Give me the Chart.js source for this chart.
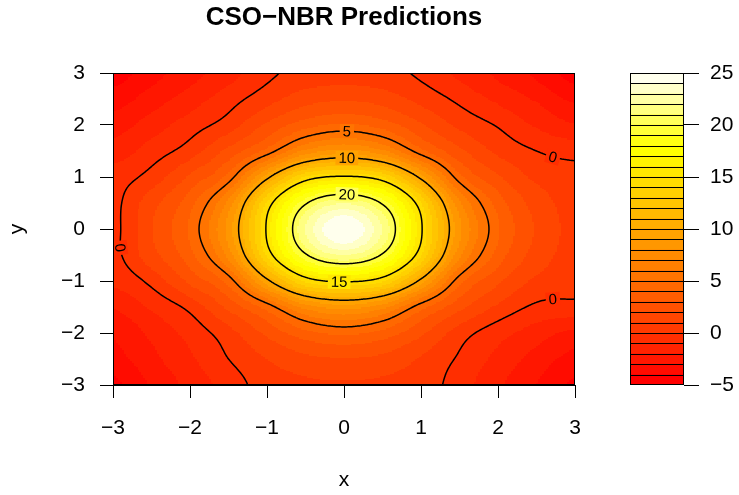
<!DOCTYPE html>
<html>
<head>
<meta charset="utf-8">
<title>CSO−NBR Predictions</title>
<script src="https://cdn.jsdelivr.net/npm/chart.js@4.4.1/dist/chart.umd.min.js"></script>
<style>
  html, body { margin: 0; padding: 0; background: #fff; }
  #wrap { position: relative; width: 739px; height: 495px; }
  #main { position: absolute; left: 0; top: 0; }
  #key { position: absolute; left: 600px; top: 0; }
</style>
</head>
<body>
<div id="wrap">
  <canvas id="main" width="739" height="495"></canvas>
  <canvas id="key" width="139" height="495"></canvas>
</div>
<script>
// prediction grid: x across, rows go from y = 3 down to y = -3
const xVals = [-3, -2.5, -2, -1.5, -1, -0.5, 0, 0.5, 1, 1.5, 2, 2.5, 3];
const yVals = [3, 2.5, 2, 1.5, 1, 0.5, 0, -0.5, -1, -1.5, -2, -2.5, -3];
const zRows = [
  [-4.5, -3.4, -2.4, -1.4, -0.25, 0.35, 0.5, 0.35, -0.2, -1.2, -2.2, -3.2, -4.4],
  [-3.5, -2.5, -1.5, -0.45, 0.6, 1.6, 1.9, 1.6, 0.7, -0.25, -1.2, -2.1, -3.2],
  [-2.5, -1.5, -0.5, 0.5, 2.2, 3.6, 4.2, 3.6, 2.2, 0.8, -0.1, -1.1, -1.9],
  [-1.56, -0.55, 0.5, 2.3, 4.4, 7.3, 8.4, 7.3, 4.4, 2.3, 0.8, 0.0, -0.4],
  [-0.5, 0.4, 2.2, 4.4, 9.6, 14.1, 15.2, 14.1, 9.6, 4.4, 2.2, 0.8, 0.45],
  [-0.3, 1.6, 3.6, 7.3, 14.1, 19.8, 22.0, 19.8, 14.1, 7.3, 3.6, 1.6, 0.6],
  [-0.3, 1.9, 4.2, 8.4, 15.2, 22.0, 25.0, 22.0, 15.2, 8.4, 4.2, 1.9, 0.7],
  [-0.3, 1.6, 3.6, 7.3, 14.1, 19.8, 22.0, 19.8, 14.1, 7.3, 3.6, 1.6, 0.6],
  [-0.8, 0.3, 2.2, 4.4, 9.6, 14.1, 15.2, 14.1, 9.6, 4.4, 2.2, 0.8, 0.45],
  [-2.0, -0.85, 0.3, 2.2, 4.4, 7.3, 8.4, 7.3, 4.4, 2.3, 0.8, -0.2, -0.35],
  [-2.9, -1.8, -0.65, 0.6, 2.2, 3.6, 4.2, 3.6, 2.2, 0.5, -0.6, -1.5, -2.3],
  [-3.4, -2.3, -1.2, 0.0, 1.0, 1.7, 1.9, 1.7, 0.9, -0.15, -1.3, -2.4, -3.4],
  [-4.3, -2.9, -1.7, -0.55, 0.45, 0.8, 0.9, 0.8, 0.5, -0.5, -1.8, -3.0, -4.2]
];
const fillLevels = [-5, -4, -3, -2, -1, 0, 1, 2, 3, 4, 5, 6, 7, 8, 9, 10, 11, 12, 13, 14, 15,
                    16, 17, 18, 19, 20, 21, 22, 23, 24, 25];
const lineLevels = [0, 5, 10, 15, 20];
const keyTicks = [-5, 0, 5, 10, 15, 20, 25];
const contourLabels = [
  { level: 5, x: 0.04, y: 1.85 },
  { level: 10, x: 0.04, y: 1.33 },
  { level: 20, x: 0.04, y: 0.66 },
  { level: 15, x: -0.07, y: -1.0 },
  { level: 0, x: 2.72, y: 1.39 },
  { level: 0, x: 2.72, y: -1.36 },
  { level: 0, x: -2.9, y: -0.36 }
];

const FONT = '"Liberation Sans", Arial, Helvetica, sans-serif';
const minus = v => (v < 0 ? '\u2212' + Math.abs(v) : String(v));

// R's heat.colors()
function heatColors(n) {
  const j = Math.floor(n / 4), i = n - j;
  const out = [];
  for (let k = 0; k < i; k++) out.push('rgb(255,' + Math.round(255 * k / (i - 1)) + ',0)');
  for (let k = 0; k < j; k++) {
    const s = (1 - 1 / (2 * j)) - k * ((1 - 1 / j) / (j - 1));
    out.push('rgb(255,255,' + Math.round(255 * (1 - s)) + ')');
  }
  return out;
}
const bandColours = heatColors(fillLevels.length - 1);

function bandColour(z) {
  let k = 0;
  while (k < fillLevels.length - 2 && z >= fillLevels[k + 1]) k++;
  return bandColours[k];
}

// smooth reading of the grid between its nodes (Catmull-Rom)
function cr(p0, p1, p2, p3, t) {
  return 0.5 * (2 * p1 + (-p0 + p2) * t + (2 * p0 - 5 * p1 + 4 * p2 - p3) * t * t +
    (-p0 + 3 * p1 - 3 * p2 + p3) * t * t * t);
}
function node(i, j) {
  i = Math.max(0, Math.min(xVals.length - 1, i));
  j = Math.max(0, Math.min(yVals.length - 1, j));
  return zRows[j][i];
}
function surface(x, y) {
  const u = (x - xVals[0]) / (xVals[1] - xVals[0]);
  const v = (y - yVals[0]) / (yVals[1] - yVals[0]);
  const i = Math.max(0, Math.min(xVals.length - 2, Math.floor(u)));
  const j = Math.max(0, Math.min(yVals.length - 2, Math.floor(v)));
  const tu = u - i, tv = v - j;
  const c = [];
  for (let k = -1; k <= 2; k++) {
    c.push(cr(node(i - 1, j + k), node(i, j + k), node(i + 1, j + k), node(i + 2, j + k), tu));
  }
  return cr(c[0], c[1], c[2], c[3], tv);
}

const xMin = Math.min(...xVals), xMax = Math.max(...xVals);
const yMin = Math.min(...yVals), yMax = Math.max(...yVals);
const N = 240;
const dx = (xMax - xMin) / N, dy = (yMax - yMin) / N;

const nodes = [];
for (let j = 0; j <= N; j++) {
  const row = [];
  for (let i = 0; i <= N; i++) row.push(surface(xMin + i * dx, yMin + j * dy));
  nodes.push(row);
}

// marching squares, segments in data units
function contourSegments(L) {
  const segs = [];
  const cut = (xa, ya, va, xb, yb, vb) => {
    const t = (L - va) / (vb - va);
    return [xa + t * (xb - xa), ya + t * (yb - ya)];
  };
  for (let j = 0; j < N; j++) {
    for (let i = 0; i < N; i++) {
      const x0 = xMin + i * dx, x1 = x0 + dx, y0 = yMin + j * dy, y1 = y0 + dy;
      const a = nodes[j][i], b = nodes[j][i + 1], c = nodes[j + 1][i + 1], d = nodes[j + 1][i];
      const p = [];
      if ((a >= L) !== (b >= L)) p[0] = cut(x0, y0, a, x1, y0, b);
      if ((b >= L) !== (c >= L)) p[1] = cut(x1, y0, b, x1, y1, c);
      if ((c >= L) !== (d >= L)) p[2] = cut(x1, y1, c, x0, y1, d);
      if ((d >= L) !== (a >= L)) p[3] = cut(x0, y1, d, x0, y0, a);
      const got = [0, 1, 2, 3].filter(k => p[k]);
      if (got.length === 2) segs.push([p[got[0]], p[got[1]]]);
      else if (got.length === 4) {
        const mid = (a + b + c + d) / 4;
        if ((mid >= L) === (a >= L)) { segs.push([p[0], p[1]]); segs.push([p[2], p[3]]); }
        else { segs.push([p[3], p[0]]); segs.push([p[1], p[2]]); }
      }
    }
  }
  return segs;
}
const contours = lineLevels.map(L => ({ level: L, segs: contourSegments(L) }));

const surfacePlugin = {
  id: 'surface',
  beforeDatasetsDraw(chart) {
    const { ctx, chartArea: a, scales: { x, y } } = chart;
    ctx.save();
    ctx.beginPath();
    ctx.rect(a.left, a.top, a.width, a.height);
    ctx.clip();
    for (let i = 0; i < N; i++) {
      const xa = xMin + i * dx;
      const p0 = Math.floor(x.getPixelForValue(xa)), p1 = Math.ceil(x.getPixelForValue(xa + dx));
      for (let j = 0; j < N; j++) {
        const ya = yMin + j * dy;
        const q0 = Math.ceil(y.getPixelForValue(ya)), q1 = Math.floor(y.getPixelForValue(ya + dy));
        ctx.fillStyle = bandColour(surface(xa + dx / 2, ya + dy / 2));
        ctx.fillRect(p0, q1, p1 - p0, q0 - q1);
      }
    }

    ctx.strokeStyle = '#000';
    ctx.lineWidth = 1.5;
    ctx.lineJoin = 'round';
    ctx.lineCap = 'round';
    contours.forEach(c => {
      ctx.beginPath();
      c.segs.forEach(s => {
        ctx.moveTo(x.getPixelForValue(s[0][0]), y.getPixelForValue(s[0][1]));
        ctx.lineTo(x.getPixelForValue(s[1][0]), y.getPixelForValue(s[1][1]));
      });
      ctx.stroke();
    });

    // labels sit in a gap cut out of their line
    ctx.font = '15px ' + FONT;
    ctx.textAlign = 'center';
    ctx.textBaseline = 'middle';
    contourLabels.forEach(lab => {
      const c = contours.find(k => k.level === lab.level);
      const ax = x.getPixelForValue(lab.x), ay = y.getPixelForValue(lab.y);
      let best = null, bestD = Infinity;
      const pix = c.segs.map(s => [x.getPixelForValue(s[0][0]), y.getPixelForValue(s[0][1]),
        x.getPixelForValue(s[1][0]), y.getPixelForValue(s[1][1])]);
      pix.forEach(s => {
        const mx = (s[0] + s[2]) / 2, my = (s[1] + s[3]) / 2;
        const dd = (mx - ax) ** 2 + (my - ay) ** 2;
        if (dd < bestD) { bestD = dd; best = [mx, my]; }
      });
      if (!best) return;
      let sx = 0, sy = 0;
      pix.forEach(s => {
        const mx = (s[0] + s[2]) / 2, my = (s[1] + s[3]) / 2;
        if ((mx - best[0]) ** 2 + (my - best[1]) ** 2 < 100) {
          const ang = Math.atan2(s[3] - s[1], s[2] - s[0]);
          sx += Math.cos(2 * ang); sy += Math.sin(2 * ang);
        }
      });
      let ang = Math.atan2(sy, sx) / 2;
      if (ang > Math.PI / 2) ang -= Math.PI;
      if (ang < -Math.PI / 2) ang += Math.PI;
      const text = String(lab.level);
      const w = ctx.measureText(text).width + 6;
      ctx.save();
      ctx.translate(best[0], best[1]);
      ctx.rotate(ang);
      ctx.fillStyle = bandColour(surface(x.getValueForPixel(best[0]), y.getValueForPixel(best[1])));
      ctx.fillRect(-w / 2, -7, w, 14);
      ctx.fillStyle = '#000';
      ctx.fillText(text, 0, 1);
      ctx.restore();
    });
    ctx.restore();
  },
  afterDraw(chart) {
    const { ctx, chartArea: a } = chart;
    ctx.save();
    ctx.strokeStyle = '#000';
    ctx.lineWidth = 1;
    ctx.strokeRect(Math.round(a.left) + 0.5, Math.round(a.top) + 0.5,
      Math.round(a.width) - 1, Math.round(a.height) - 1);
    ctx.restore();
  }
};

const axisFont = { family: FONT, size: 21 };

new Chart(document.getElementById('main'), {
  type: 'scatter',
  data: { datasets: [{ data: [] }] },
  plugins: [surfacePlugin],
  options: {
    responsive: false,
    animation: false,
    events: [],
    layout: { padding: { left: 0, right: 164, top: 0, bottom: 0 } },
    plugins: {
      legend: { display: false },
      tooltip: { enabled: false },
      title: {
        display: true,
        text: 'CSO\u2212NBR Predictions',
        fullSize: false,
        color: '#000',
        font: { family: FONT, size: 26, weight: 'bold' },
        padding: { top: 2.4, bottom: 39.4 }
      }
    },
    scales: {
      x: {
        type: 'linear', min: xMin, max: xMax,
        afterFit: s => { s.height = 110; },
        ticks: { stepSize: 1, color: '#000', font: axisFont, padding: 17.4, maxRotation: 0, callback: minus },
        grid: { drawOnChartArea: false, drawTicks: true, tickLength: 13, color: '#000' },
        border: { display: true, color: '#000' },
        title: { display: true, text: 'x', color: '#000', font: axisFont, padding: { top: 0, bottom: 2.4 } }
      },
      y: {
        type: 'linear', min: yMin, max: yMax,
        afterFit: s => { s.width = 113; },
        ticks: { stepSize: 1, color: '#000', font: axisFont, padding: 15, callback: minus },
        grid: { drawOnChartArea: false, drawTicks: true, tickLength: 13, color: '#000' },
        border: { display: true, color: '#000' },
        title: { display: true, text: 'y', color: '#000', font: axisFont, padding: { top: 4.4, bottom: 0 } }
      }
    }
  }
});

// colour key: one floating bar per band, outlined afterwards
const bands = fillLevels.slice(0, -1).map((lo, k) => [lo, fillLevels[k + 1]]);
const keyOutline = {
  id: 'keyOutline',
  afterDatasetsDraw(chart) {
    const { ctx, chartArea: a, scales: { y } } = chart;
    const l = Math.round(a.left) + 0.5, r = Math.round(a.right) - 0.5;
    ctx.save();
    ctx.strokeStyle = '#000';
    ctx.lineWidth = 1;
    ctx.beginPath();
    fillLevels.forEach(v => {
      const py = Math.round(y.getPixelForValue(v)) + (v === fillLevels[0] ? -0.5 : 0.5);
      ctx.moveTo(l, py);
      ctx.lineTo(r, py);
    });
    ctx.moveTo(l, Math.round(a.top));
    ctx.lineTo(l, Math.round(a.bottom));
    ctx.moveTo(r, Math.round(a.top));
    ctx.lineTo(r, Math.round(a.bottom));
    ctx.stroke();
    ctx.restore();
  }
};
new Chart(document.getElementById('key'), {
  type: 'bar',
  data: {
    labels: [''],
    datasets: bands.map((b, k) => ({
      data: [b],
      backgroundColor: bandColours[k],
      borderWidth: 0,
      inflateAmount: 0.5,
      grouped: false,
      barPercentage: 1,
      categoryPercentage: 1
    }))
  },
  plugins: [keyOutline],
  options: {
    responsive: false,
    animation: false,
    events: [],
    layout: { padding: { left: 30, right: 0, top: 73, bottom: 110 } },
    plugins: { legend: { display: false }, tooltip: { enabled: false } },
    scales: {
      x: { display: false },
      y: {
        position: 'right',
        min: fillLevels[0], max: fillLevels[fillLevels.length - 1],
        afterFit: s => { s.width = 55; },
        afterBuildTicks: s => { s.ticks = keyTicks.map(v => ({ value: v })); },
        ticks: { color: '#000', font: axisFont, padding: 11, callback: minus },
        grid: { drawOnChartArea: false, drawTicks: true, tickLength: 15, color: '#000' },
        border: { display: false }
      }
    }
  }
});
</script>
</body>
</html>
